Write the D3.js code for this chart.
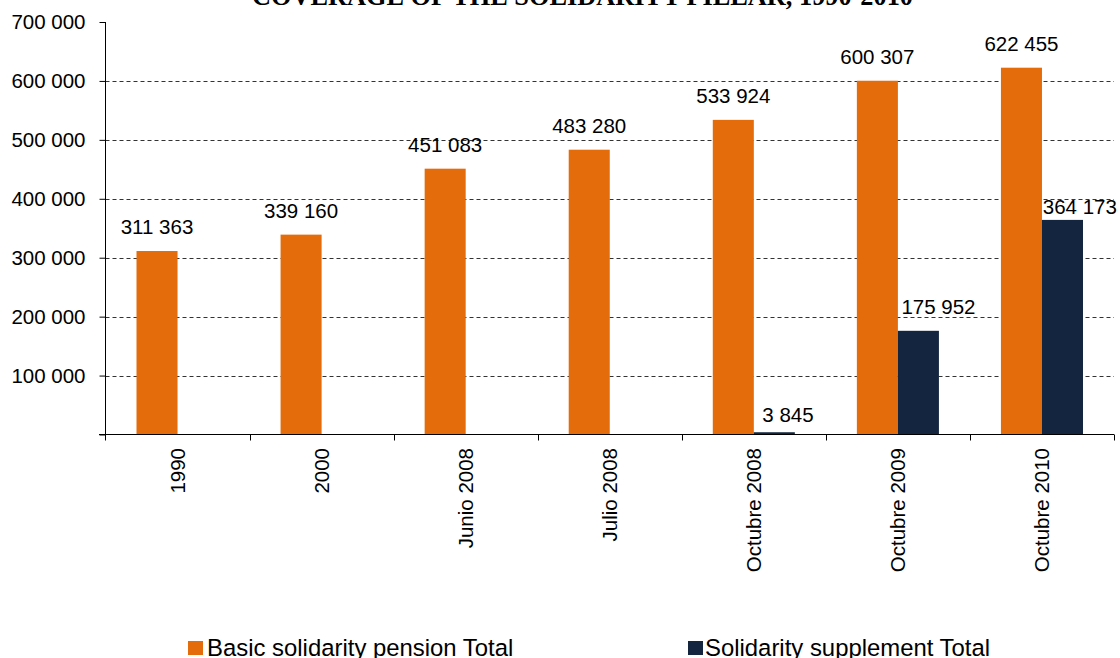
<!DOCTYPE html>
<html>
<head>
<meta charset="utf-8">
<script src="https://cdn.jsdelivr.net/npm/d3@7"></script>
<style>
  html, body { margin: 0; padding: 0; background: #fff; }
  svg { display: block; }
</style>
</head>
<body>
<svg id="chart" width="1120" height="658"></svg>
<script>
// ---- data ----
const categories = ["1990", "2000", "Junio 2008", "Julio 2008", "Octubre 2008", "Octubre 2009", "Octubre 2010"];
const seriesNames = ["Basic solidarity pension Total", "Solidarity supplement Total"];
const basicPension = [311363, 339160, 451083, 483280, 533924, 600307, 622455];
const solidaritySupplement = [null, null, null, null, 3845, 175952, 364173];
const yTicks = [0, 100000, 200000, 300000, 400000, 500000, 600000, 700000];
const titleText = "COVERAGE OF THE SOLIDARITY PILLAR, 1990-2010";

// ---- style ----
const colors = ["#E46C0A", "#14263F"];
const fontSans = "Arial, 'Liberation Sans', sans-serif";
// label nudges for the supplement series (dx from bar left, dy above bar top)
const supplementLabelNudge = [null, null, null, null, [8.5, 10.5], [3.5, 17], [0.8, 5.5]];

const svg = d3.select("#chart");
const loc = d3.formatLocale({decimal: ",", thousands: " ", grouping: [3], currency: ["", ""]});
const fmt = loc.format(",d");

const x0 = d3.scaleBand().domain(categories).range([105.5, 1114]).paddingInner(0).paddingOuter(0);
const bw = x0.bandwidth();
const x1 = d3.scaleBand().domain([0, 1]).range([bw * 0.2152, bw * 0.7848]).padding(0);
const y = d3.scaleLinear().domain([0, 700000]).range([434.5, 22]);

// title (partially clipped at top)
svg.append("text")
  .attr("x", 582.5).attr("y", 5)
  .attr("text-anchor", "middle")
  .style("font-family", "'Times New Roman', 'Liberation Serif', serif")
  .style("font-weight", "bold")
  .style("font-size", "26.3px")
  .text(titleText);

// gridlines
svg.append("g").selectAll("line")
  .data(yTicks.filter(d => d > 0 && d < 700000))
  .join("line")
  .attr("x1", 105.5).attr("x2", 1114)
  .attr("y1", d => Math.round(y(d)) + 0.5).attr("y2", d => Math.round(y(d)) + 0.5)
  .attr("stroke", "#333").attr("stroke-width", 1).attr("stroke-dasharray", "4,3");

// bars
const seriesData = [basicPension, solidaritySupplement];
const barG = svg.append("g");
seriesData.forEach((vals, si) => {
  barG.append("g").selectAll("rect")
    .data(vals.map((v, i) => ({cat: categories[i], v})).filter(d => d.v != null))
    .join("rect")
    .attr("x", d => x0(d.cat) + x1(si))
    .attr("width", x1.bandwidth())
    .attr("y", d => y(d.v))
    .attr("height", d => y(0) - y(d.v))
    .attr("fill", colors[si]);
});

// y axis
const yAxis = d3.axisLeft(y).tickValues(yTicks).tickSize(6).tickPadding(14)
  .tickFormat(d => d === 0 ? "" : fmt(d));
const yg = svg.append("g").attr("transform", "translate(105.5,0)").call(yAxis);
yg.select(".domain").attr("d", `M0,${y(700000)}V${y(0)}`).attr("stroke", "#000");
yg.selectAll(".tick line").attr("stroke", "#000");
yg.selectAll(".tick text").style("font-family", fontSans).style("font-size", "20.5px").attr("fill", "#000");

// x axis
const xg = svg.append("g").attr("transform", "translate(0,434.5)");
xg.append("line").attr("x1", 99).attr("x2", 1114).attr("stroke", "#000");
const boundaries = categories.map(c => x0(c)).concat([x0(categories[categories.length - 1]) + bw]);
xg.selectAll("line.tk").data(boundaries).join("line").attr("class", "tk")
  .attr("x1", d => Math.round(d) + 0.5).attr("x2", d => Math.round(d) + 0.5)
  .attr("y1", 0).attr("y2", 6).attr("stroke", "#000");
xg.selectAll("text").data(categories).join("text")
  .attr("transform", d => `translate(${x0(d) + bw / 2 + 7},13.5) rotate(-90)`)
  .attr("text-anchor", "end")
  .style("font-family", fontSans).style("font-size", "20.5px")
  .text(d => d);

// data labels
svg.append("g").selectAll("text")
  .data(basicPension.map((v, i) => ({cat: categories[i], v})))
  .join("text")
  .attr("x", d => x0(d.cat) + x1(0) + x1.bandwidth() / 2)
  .attr("y", d => y(d.v) - 17)
  .attr("text-anchor", "middle")
  .style("font-family", fontSans).style("font-size", "20.5px")
  .text(d => fmt(d.v));

svg.append("g").selectAll("text")
  .data(solidaritySupplement.map((v, i) => ({cat: categories[i], v, n: supplementLabelNudge[i]})).filter(d => d.v != null))
  .join("text")
  .attr("x", d => x0(d.cat) + x1(1) + d.n[0])
  .attr("y", d => y(d.v) - d.n[1])
  .attr("text-anchor", "start")
  .style("font-family", fontSans).style("font-size", "20.5px")
  .text(d => fmt(d.v));

// legend
const legendPos = [[188, 207], [688, 705]];
const lg = svg.append("g");
seriesNames.forEach((name, i) => {
  lg.append("rect").attr("x", legendPos[i][0]).attr("y", 641).attr("width", 15).attr("height", 14).attr("fill", colors[i]);
  lg.append("text").attr("x", legendPos[i][1]).attr("y", 655.5)
    .style("font-family", fontSans).style("font-size", "23.9px").text(name);
});
</script>
</body>
</html>
